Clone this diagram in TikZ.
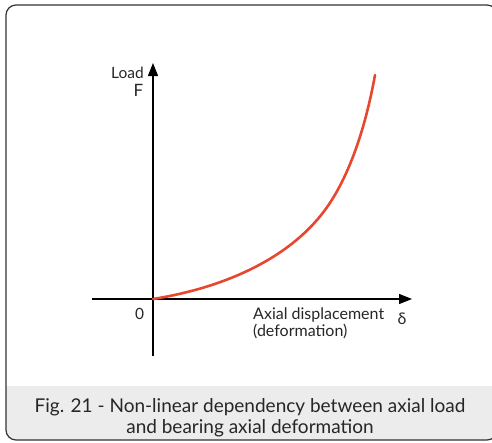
\documentclass[tikz,border=0pt]{standalone}
\usepackage{fontspec}
\setmainfont{Lato}
\usetikzlibrary{arrows.meta}
\definecolor{curvered}{HTML}{E8472F}
\definecolor{bandgray}{HTML}{ECECEC}
\definecolor{framegray}{HTML}{333333}
\begin{document}
\begin{tikzpicture}[x=1pt,y=-1pt,
  axisline/.style={line width=1.2pt,black,-{Triangle[length=13pt,width=10pt]}},
  lbl/.style={inner sep=0pt,font=\fontsize{16}{17.5}\selectfont,text=black!85},
  caption/.style={inner sep=0pt,align=center,font=\fontsize{19}{21}\selectfont,text=black!85}]
\useasboundingbox (0,0) rectangle (492,442);
\begin{scope}
  \clip (0,0) rectangle (492,442);
  % caption band with the frame's rounded lower corners
  \fill[bandgray,rounded corners=10pt] (6,386) -- (6,440) -- (497,440) -- (497,386) -- cycle;
  \fill[bandgray] (6,386) rectangle (497,420);
  % outer frame
  \draw[framegray,line width=1.2pt,rounded corners=10pt] (6,5) rectangle (497,440);
\end{scope}
% axes
\coordinate (o) at (153,299);
\coordinate (xs) at (92,299);
\coordinate (xe) at (412,299);
\coordinate (ys) at (153,356);
\coordinate (ye) at (153,63);
\coordinate (mid) at (325,210);
\coordinate (top) at (375,75);
\draw[axisline] (xs) -- (xe);
\draw[axisline] (ys) -- (ye);
% load--deformation curve
\draw[curvered,line width=2.6pt,line cap=round]
  (o) .. controls (222,288) and (288,260) .. (mid)
      .. controls (350,176) and (366,125) .. (top);
% labels
\node[lbl,anchor=base east,font=\fontsize{15.5}{17}\selectfont] (load) at (144,78) {Load};
\node[lbl,anchor=base,font=\fontsize{17}{19}\selectfont] (f) at (138.5,96) {F};
\node[lbl,anchor=base,font=\fontsize{15.5}{17}\selectfont] (zero) at (139.5,319) {0};
\node[lbl,anchor=base west,align=left] (axd) at (253,336.5) {Axial displacement\\(deformation)};
\node[lbl,anchor=base,font=\fontsize{16}{18}\selectfont] (delta) at (402,324) {δ};
\node[caption,anchor=base] (cap) at (250,433) {Fig. 21 - Non-linear dependency between axial load\\and bearing axial deformation};
\end{tikzpicture}
\end{document}
